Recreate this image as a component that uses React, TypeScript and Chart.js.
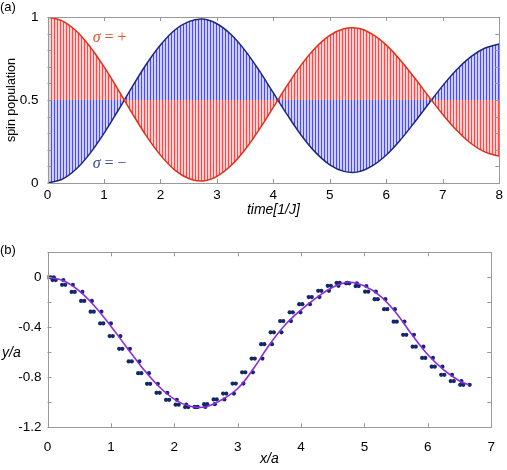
import React, { useEffect, useRef } from 'react';
import { Chart, registerables } from 'chart.js';

Chart.register(...registerables);

// ---------- Panel (a) data ----------
const timeValues = [0, 0.25, 0.5, 0.75, 1, 1.25, 1.5, 1.75, 2, 2.25, 2.5, 2.75, 3, 3.25, 3.5, 3.75, 4, 4.25, 4.5, 4.75, 5, 5.25, 5.5, 5.75, 6, 6.25, 6.5, 6.75, 7, 7.25, 7.5, 7.75, 8];
const sigmaPlus = [1.0, 0.979, 0.919, 0.823, 0.701, 0.563, 0.42, 0.284, 0.168, 0.079, 0.027, 0.012, 0.04, 0.105, 0.202, 0.323, 0.457, 0.591, 0.715, 0.817, 0.89, 0.93, 0.933, 0.897, 0.831, 0.74, 0.634, 0.522, 0.413, 0.316, 0.238, 0.186, 0.162];
const sigmaMinus = [0.0, 0.021, 0.081, 0.177, 0.299, 0.437, 0.58, 0.716, 0.832, 0.921, 0.973, 0.988, 0.96, 0.895, 0.798, 0.677, 0.543, 0.409, 0.285, 0.183, 0.11, 0.07, 0.067, 0.103, 0.169, 0.26, 0.366, 0.478, 0.587, 0.684, 0.762, 0.814, 0.838];
const popTickLabels = [0, 0.5, 1];

// ---------- Panel (b) data ----------
const pathX = [0, 0.25, 0.5, 0.75, 1, 1.25, 1.5, 1.75, 2, 2.25, 2.5, 2.75, 3, 3.25, 3.5, 3.75, 4, 4.25, 4.5, 4.75, 5, 5.25, 5.5, 5.75, 6, 6.25, 6.5, 6.65];
const pathY = [0, -0.028, -0.109, -0.235, -0.391, -0.561, -0.727, -0.87, -0.975, -1.032, -1.035, -0.98, -0.89, -0.73, -0.54, -0.38, -0.26, -0.16, -0.08, -0.04, -0.07, -0.15, -0.285, -0.46, -0.62, -0.74, -0.83, -0.86];
// each row: [y, x1, x2, x3]
const stepRows = [
  [0, 0.0, 0.05, 0.1],
  [-0.022, 0.08, 0.13, 0.25],
  [-0.06, 0.23, 0.28, 0.4],
  [-0.117, 0.38, 0.43, 0.55],
  [-0.189, 0.53, 0.58, 0.7],
  [-0.275, 0.68, 0.73, 0.85],
  [-0.369, 0.83, 0.88, 1.0],
  [-0.47, 0.98, 1.03, 1.15],
  [-0.572, 1.13, 1.18, 1.3],
  [-0.673, 1.28, 1.33, 1.45],
  [-0.767, 1.43, 1.48, 1.6],
  [-0.852, 1.57, 1.62, 1.74],
  [-0.924, 1.72, 1.77, 1.89],
  [-0.98, 1.87, 1.92, 2.04],
  [-1.019, 2.02, 2.07, 2.19],
  [-1.038, 2.17, 2.22, 2.34],
  [-1.037, 2.32, 2.37, 2.49],
  [-1.015, 2.47, 2.52, 2.64],
  [-0.977, 2.62, 2.67, 2.79],
  [-0.93, 2.77, 2.82, 2.94],
  [-0.85, 2.92, 2.97, 3.09],
  [-0.76, 3.07, 3.12, 3.24],
  [-0.65, 3.22, 3.27, 3.39],
  [-0.535, 3.37, 3.42, 3.54],
  [-0.44, 3.52, 3.57, 3.69],
  [-0.35, 3.67, 3.72, 3.84],
  [-0.28, 3.82, 3.87, 3.99],
  [-0.215, 3.97, 4.02, 4.14],
  [-0.158, 4.12, 4.17, 4.29],
  [-0.108, 4.27, 4.32, 4.44],
  [-0.068, 4.42, 4.47, 4.59],
  [-0.045, 4.56, 4.61, 4.73],
  [-0.048, 4.71, 4.76, 4.88],
  [-0.07, 4.86, 4.91, 5.03],
  [-0.115, 5.01, 5.06, 5.18],
  [-0.175, 5.16, 5.21, 5.33],
  [-0.255, 5.31, 5.36, 5.48],
  [-0.355, 5.46, 5.51, 5.63],
  [-0.46, 5.61, 5.66, 5.78],
  [-0.555, 5.76, 5.81, 5.93],
  [-0.645, 5.91, 5.96, 6.08],
  [-0.715, 6.06, 6.11, 6.23],
  [-0.78, 6.21, 6.26, 6.38],
  [-0.83, 6.36, 6.41, 6.53],
  [-0.86, 6.51, 6.56, 6.66],
];
const yTickLabelsB = [0, -0.4, -0.8, -1.2];

const SANS = '"Liberation Sans", Arial, Helvetica, sans-serif';
const SERIF = '"Liberation Serif", "Times New Roman", serif';

function stripes(line: string, fill: string) {
  const c = document.createElement('canvas');
  c.width = 3;
  c.height = 4;
  const g = c.getContext('2d')!;
  g.fillStyle = fill;
  g.fillRect(0, 0, 3, 4);
  g.fillStyle = line;
  g.fillRect(0, 0, 1, 4);
  return g.createPattern(c, 'repeat')!;
}

const frameTicks = {
  id: 'frameTicks',
  afterDatasetsDraw(chart: any) {
    const { ctx, chartArea: a, scales } = chart;
    ctx.save();
    ctx.strokeStyle = '#999999';
    ctx.lineWidth = 1;
    ctx.strokeRect(Math.round(a.left) + 0.5, Math.round(a.top) + 0.5, Math.round(a.right) - Math.round(a.left), Math.round(a.bottom) - Math.round(a.top));
    const len = 4;
    ctx.beginPath();
    for (const t of scales.x.ticks) {
      const px = Math.round(scales.x.getPixelForValue(t.value)) + 0.5;
      ctx.moveTo(px, a.bottom);
      ctx.lineTo(px, a.bottom - len);
      ctx.moveTo(px, a.top);
      ctx.lineTo(px, a.top + len);
    }
    for (const t of scales.y.ticks) {
      const py = Math.round(scales.y.getPixelForValue(t.value)) + 0.5;
      ctx.moveTo(a.left, py);
      ctx.lineTo(a.left + len, py);
      ctx.moveTo(a.right, py);
      ctx.lineTo(a.right - len, py);
    }
    ctx.stroke();
    ctx.restore();
  },
};

function labelFor(list: number[]) {
  return (v: any) => {
    const hit = list.find((l) => Math.abs(l - Number(v)) < 1e-6);
    return hit === undefined ? '' : String(hit);
  };
}

export default function App() {
  const refA = useRef<HTMLCanvasElement>(null);
  const refB = useRef<HTMLCanvasElement>(null);

  useEffect(() => {
    const redPattern = stripes('rgba(255,50,50,0.85)', 'rgba(255,140,140,0.42)');
    const bluePattern = stripes('rgba(50,50,255,0.85)', 'rgba(140,140,255,0.42)');

    const annotA = {
      id: 'annotA',
      afterDatasetsDraw(chart: any) {
        const { ctx, scales } = chart;
        const drawSigma = (xv: number, yv: number, sign: string, color: string) => {
          const x = scales.x.getPixelForValue(xv);
          const y = scales.y.getPixelForValue(yv);
          ctx.save();
          ctx.fillStyle = color;
          ctx.textBaseline = 'middle';
          ctx.textAlign = 'left';
          ctx.font = `italic 16px ${SERIF}`;
          ctx.fillText('σ', x, y);
          const w = ctx.measureText('σ').width;
          ctx.font = `16px ${SERIF}`;
          ctx.fillText(' = ' + sign, x + w, y);
          ctx.restore();
        };
        drawSigma(0.8, 0.873, '+', '#e4502e');
        drawSigma(0.8, 0.114, '\u2212', '#3d4a96');
        ctx.save();
        ctx.fillStyle = '#000';
        ctx.font = `13px ${SANS}`;
        ctx.textBaseline = 'middle';
        ctx.textAlign = 'left';
        ctx.fillText('(a)', 0, 7);
        ctx.restore();
      },
    };

    const chartA = new Chart(refA.current!, {
      type: 'line',
      data: {
        datasets: [
          {
            label: 'σ = +',
            data: timeValues.map((t, i) => ({ x: t, y: sigmaPlus[i] })),
            borderColor: '#e0301c',
            borderWidth: 1.5,
            backgroundColor: redPattern,
            fill: { value: 0.5 },
            pointRadius: 0,
            tension: 0.35,
          },
          {
            label: 'σ = −',
            data: timeValues.map((t, i) => ({ x: t, y: sigmaMinus[i] })),
            borderColor: '#1c2878',
            borderWidth: 1.5,
            backgroundColor: bluePattern,
            fill: { value: 0.5 },
            pointRadius: 0,
            tension: 0.35,
          },
        ],
      },
      options: {
        animation: false,
        responsive: false,
        maintainAspectRatio: false,
        layout: { padding: { top: 10, right: 5, left: 0, bottom: 0 } },
        plugins: { legend: { display: false }, tooltip: { enabled: false } },
        scales: {
          x: {
            type: 'linear',
            min: 0,
            max: 8,
            grid: { display: false, drawTicks: false },
            border: { display: false },
            ticks: { stepSize: 1, autoSkip: false, maxRotation: 0, padding: 4, color: '#000', font: { family: SANS, size: 13.5 } },
            title: { display: true, text: 'time[1/J]', color: '#000', font: { family: SANS, size: 14, style: 'italic' }, padding: { top: 0, bottom: 0 } },
            afterFit(s: any) { s.height = 36; },
          },
          y: {
            min: 0,
            max: 1,
            grid: { display: false, drawTicks: false },
            border: { display: false },
            ticks: { stepSize: 0.1, autoSkip: false, padding: 9, color: '#000', font: { family: SANS, size: 13.5 }, callback: labelFor(popTickLabels) },
            title: { display: true, text: 'spin population', color: '#000', font: { family: SANS, size: 12.5 }, padding: { top: 4, bottom: 0 } },
            afterFit(s: any) { s.width = 47.5; },
          },
        },
      },
      plugins: [frameTicks, annotA],
    });

    const annotB = {
      id: 'annotB',
      afterDatasetsDraw(chart: any) {
        const { ctx, chartArea } = chart;
        ctx.save();
        ctx.fillStyle = '#000';
        ctx.textBaseline = 'middle';
        ctx.textAlign = 'left';
        ctx.font = `13px ${SANS}`;
        ctx.fillText('(b)', 0, 25);
        ctx.font = `italic 14px ${SANS}`;
        ctx.fillText('y/a', 2, (chartArea.top + chartArea.bottom) / 2 + 13);
        ctx.restore();
      },
    };

    const dots: { x: number; y: number }[] = [];
    stepRows.forEach((r) => {
      for (let k = 1; k < r.length; k++) dots.push({ x: r[k], y: r[0] });
    });

    const chartB = new Chart(refB.current!, {
      type: 'scatter',
      data: {
        datasets: [
          {
            type: 'line',
            label: 'path',
            data: pathX.map((x, i) => ({ x, y: pathY[i] })),
            borderColor: '#8a2be6',
            borderWidth: 1.6,
            pointRadius: 0,
            tension: 0.4,
            fill: false,
          } as any,
          {
            label: 'sites',
            data: dots,
            backgroundColor: '#13286a',
            borderWidth: 0,
            pointRadius: 2.1,
          },
        ],
      },
      options: {
        animation: false,
        responsive: false,
        maintainAspectRatio: false,
        layout: { padding: { top: 27.3, right: 4.3, left: 0, bottom: 0 } },
        plugins: { legend: { display: false }, tooltip: { enabled: false } },
        scales: {
          x: {
            type: 'linear',
            min: 0,
            max: 7,
            grid: { display: false, drawTicks: false },
            border: { display: false },
            ticks: { stepSize: 1, autoSkip: false, maxRotation: 0, padding: 12, color: '#000', font: { family: SANS, size: 13.5 } },
            title: { display: true, text: 'x/a', color: '#000', font: { family: SANS, size: 14, style: 'italic' }, padding: { top: 0, bottom: 2 } },
            afterFit(s: any) { s.height = 42.7; },
          },
          y: {
            min: -1.2,
            max: 0.2,
            grid: { display: false, drawTicks: false },
            border: { display: false },
            ticks: { stepSize: 0.2, autoSkip: false, padding: 6, color: '#000', font: { family: SANS, size: 13.5 }, callback: labelFor(yTickLabelsB) },
            title: { display: false },
            afterFit(s: any) { s.width = 47.5; },
          },
        },
      },
      plugins: [frameTicks, annotB],
    });

    return () => {
      chartA.destroy();
      chartB.destroy();
    };
  }, []);

  return (
    <div style={{ position: 'absolute', left: 0, top: 0, width: 507, height: 470, background: '#fff' }}>
      <canvas ref={refA} width={507} height={219} style={{ position: 'absolute', left: 0, top: 0, width: 507, height: 219 }} />
      <canvas ref={refB} width={507} height={245} style={{ position: 'absolute', left: 0, top: 225, width: 507, height: 245 }} />
    </div>
  );
}
